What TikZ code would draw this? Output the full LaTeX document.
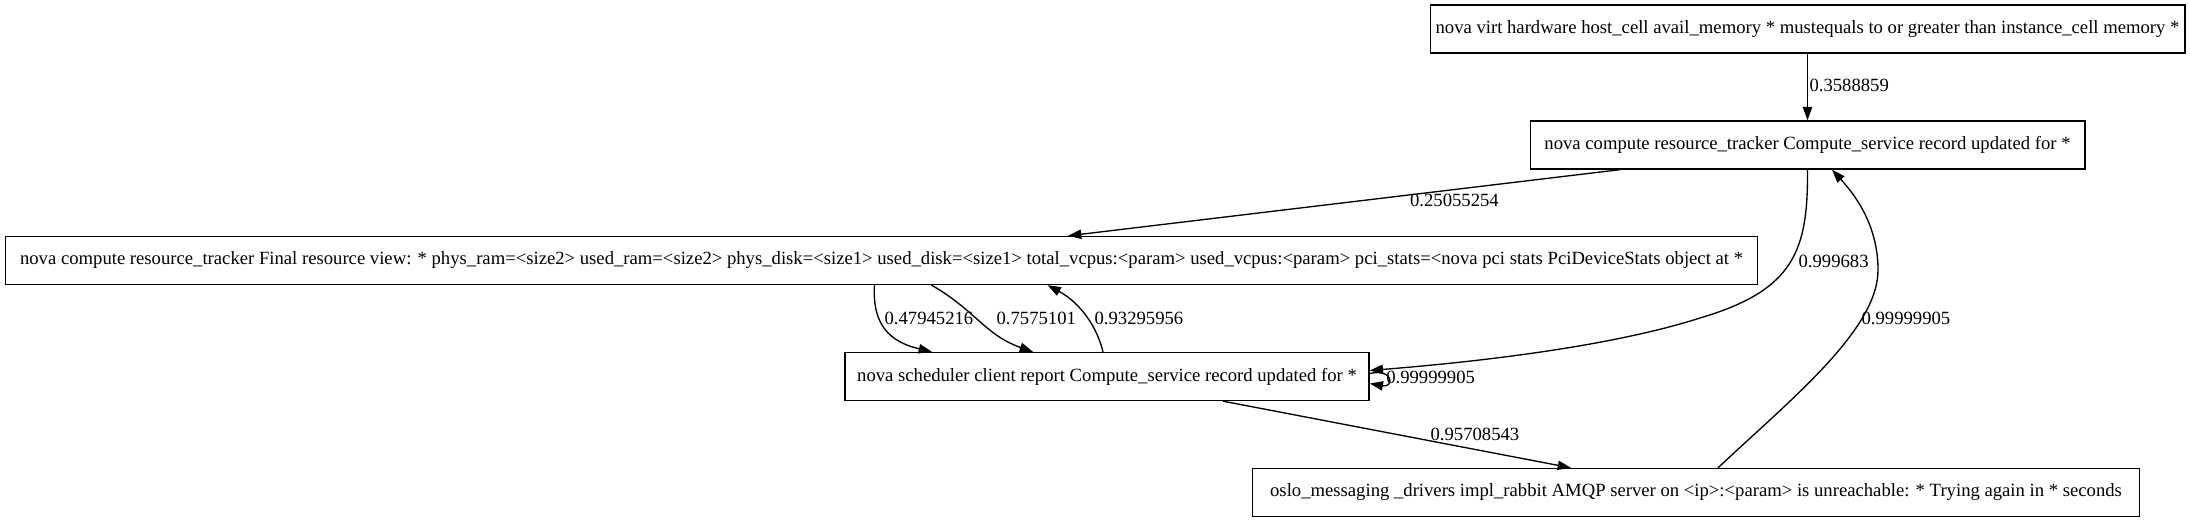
\documentclass[tikz,border=0pt]{standalone}
\usepackage{fontspec}
\setmainfont{Liberation Serif}
\usetikzlibrary{arrows.meta,calc}
\tikzset{
  gvbox/.style={draw, line width=1pt, minimum height=36pt, inner xsep=4pt, inner ysep=0pt, font=\fontsize{14pt}{16pt}\selectfont, fill=white},
  lbl/.style={font=\fontsize{14pt}{16pt}\selectfont, inner sep=1pt},
  edge/.style={line width=1pt, -{Triangle[length=10pt,width=7pt]}}
}
\begin{document}
\begin{tikzpicture}[x=0.75pt, y=-0.75pt]
\path[use as bounding box, fill=white] (0,0) rectangle (2190,523);

\node[gvbox, minimum width=566pt] (A) at (1807.5,29) {nova virt hardware host\_cell avail\_memory * mustequals to or greater than instance\_cell memory *};
\node[gvbox, minimum width=416pt] (B) at (1807.5,145) {nova compute resource\_tracker Compute\_service record updated for *};
\node[gvbox, minimum width=1314pt] (C) at (881.5,260.5) {nova compute resource\_tracker Final resource view: * phys\_ram=<size2> used\_ram=<size2> phys\_disk=<size1> used\_disk=<size1> total\_vcpus:<param> used\_vcpus:<param> pci\_stats=<nova pci stats PciDeviceStats object at *};
\node[gvbox, minimum width=393pt] (D) at (1107,376.5) {nova scheduler client report Compute\_service record updated for *};
\node[gvbox, minimum width=665pt] (E) at (1696,492.5) {oslo\_messaging \_drivers impl\_rabbit AMQP server on <ip>:<param> is unreachable: * Trying again in * seconds};

% A -> B
\draw[edge] (A.south) -- node[lbl, right, pos=0.47] {0.3588859} (B.north);

% B -> C
\draw[edge] ($(B.south)+(-187.5,0)$) -- node[lbl, below, pos=0.3, inner sep=3pt] {0.25055254} ($(C.north)+(186.5,0)$);

% B -> D
\coordinate (bd1) at (1700,318);
\draw[edge] (B.south) .. controls (1808,250) and (1795,290) .. (bd1)
  .. controls (1600,350) and (1450,364) .. ($(D.east)+(0,-6)$);
\node[lbl, anchor=west] at (1797,261) {0.999683};

% E -> B
\coordinate (eb1) at (1878,270);
\draw[edge] ($(E.north)+(22,0)$) .. controls (1790,400) and (1878,330) .. (eb1)
  .. controls (1878,225) and (1855,195) .. ($(B.south)+(24.5,0)$);
\node[lbl, anchor=west] at (1860,318) {0.99999905};

% C -> D (0.47945216)
\draw[edge] ($(C.south)+(-7,0)$) .. controls (872,325) and (890,342) .. ($(D.north)+(-175,0)$);
\node[lbl, anchor=west] at (883,318) {0.47945216};

% C -> D (0.7575101)
\draw[edge] ($(C.south)+(50,0)$) .. controls (975,310) and (985,335) .. ($(D.north)+(-74,0)$);
\node[lbl, anchor=west] at (995,318) {0.7575101};

% D -> C (0.93295956)
\draw[edge] ($(D.north)+(-4,0)$) .. controls (1095,320) and (1075,300) .. ($(C.south)+(166,0)$);
\node[lbl, anchor=west] at (1093,318) {0.93295956};

% D self-loop
\draw[edge] ($(D.east)+(0,-3)$) .. controls (1394,368) and (1394,388) .. ($(D.east)+(0,7)$);
\node[lbl, anchor=west, inner sep=0pt] at (1386,377) {0.99999905};

% D -> E
\draw[edge] ($(D.south)+(116,0)$) -- ($(E.north)+(-125,0)$);
\node[lbl, anchor=west] at (1429,434) {0.95708543};
\end{tikzpicture}
\end{document}
